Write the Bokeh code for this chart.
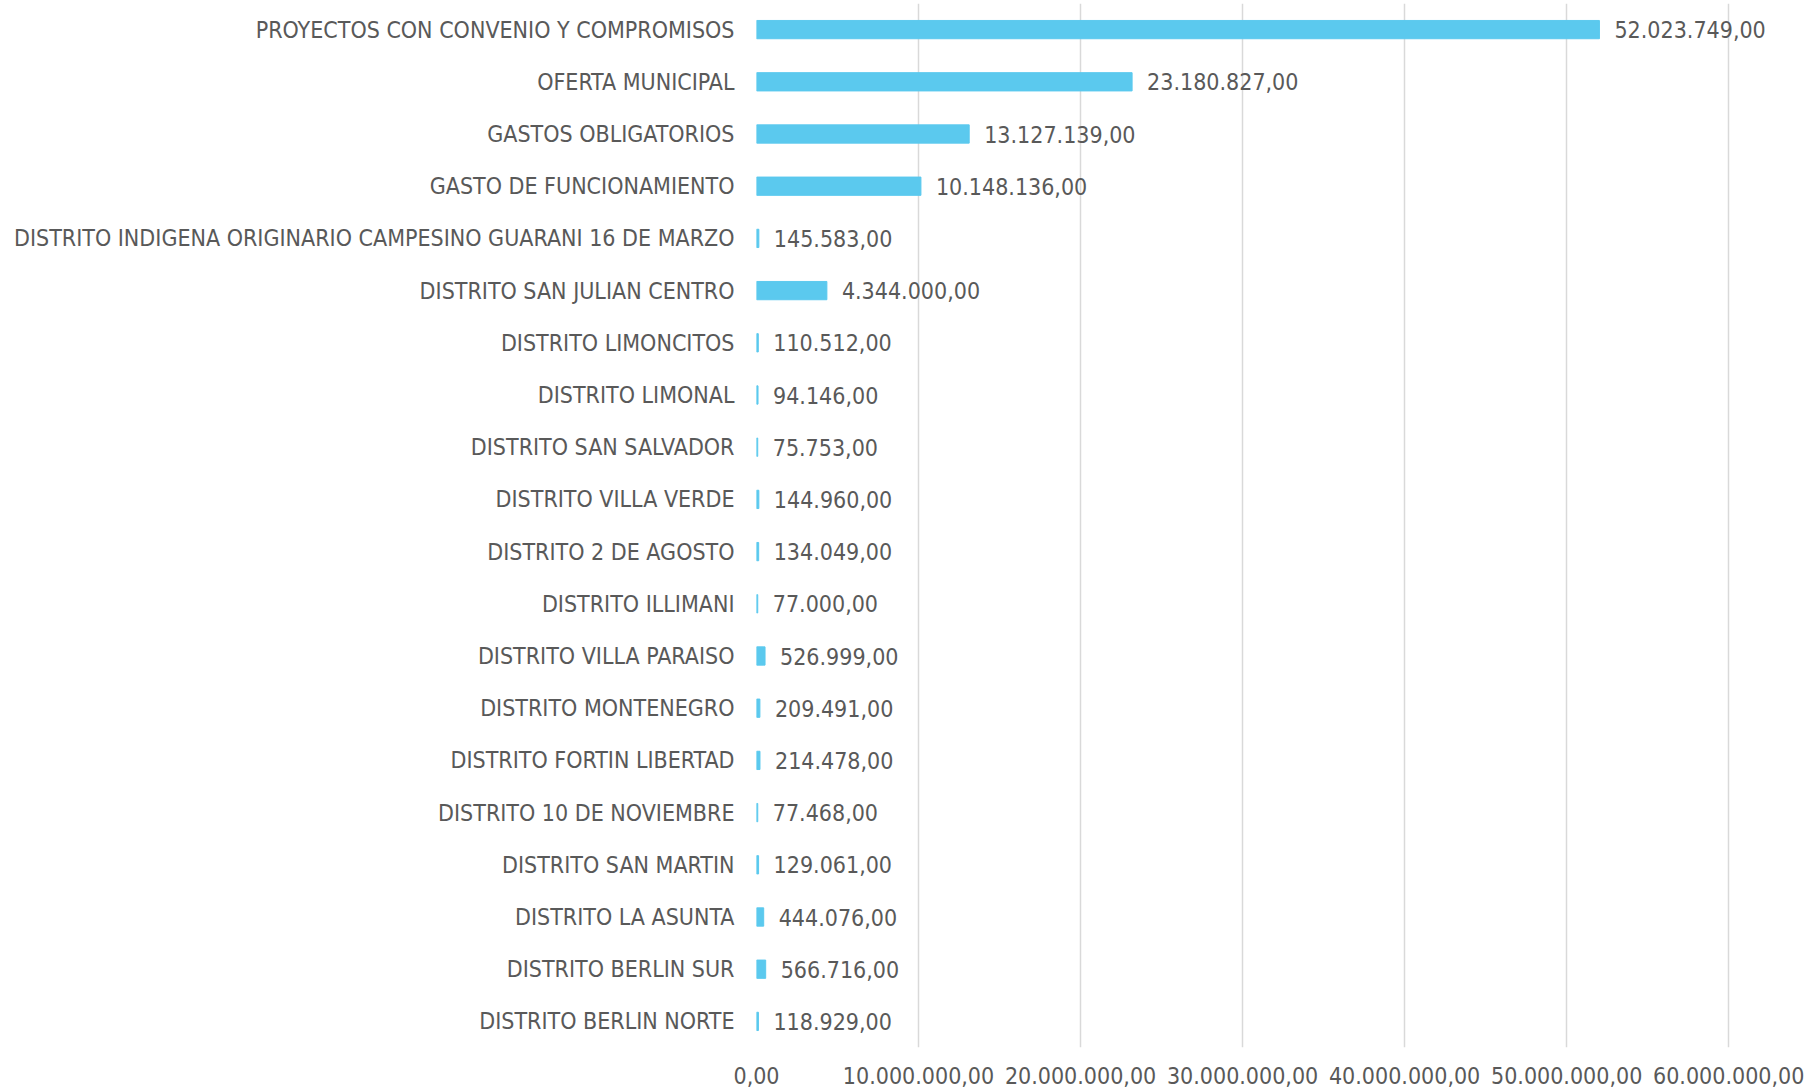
from bokeh.plotting import figure
from bokeh.models import ColumnDataSource, FixedTicker, Range1d, FactorRange
from bokeh.core.properties import value
from bokeh.embed import file_html
from bokeh.resources import INLINE

categories = [
    "PROYECTOS CON CONVENIO Y COMPROMISOS",
    "OFERTA MUNICIPAL",
    "GASTOS OBLIGATORIOS",
    "GASTO DE FUNCIONAMIENTO",
    "DISTRITO INDIGENA ORIGINARIO CAMPESINO GUARANI 16 DE MARZO",
    "DISTRITO SAN JULIAN CENTRO",
    "DISTRITO LIMONCITOS",
    "DISTRITO LIMONAL",
    "DISTRITO SAN SALVADOR",
    "DISTRITO VILLA VERDE",
    "DISTRITO 2 DE AGOSTO",
    "DISTRITO ILLIMANI",
    "DISTRITO VILLA PARAISO",
    "DISTRITO MONTENEGRO",
    "DISTRITO FORTIN LIBERTAD",
    "DISTRITO 10 DE NOVIEMBRE",
    "DISTRITO SAN MARTIN",
    "DISTRITO LA ASUNTA",
    "DISTRITO BERLIN SUR",
    "DISTRITO BERLIN NORTE",
]
values = [
    52023749.00, 23180827.00, 13127139.00, 10148136.00, 145583.00,
    4344000.00, 110512.00, 94146.00, 75753.00, 144960.00,
    134049.00, 77000.00, 526999.00, 209491.00, 214478.00,
    77468.00, 129061.00, 444076.00, 566716.00, 118929.00,
]
x_ticks = [0, 10000000, 20000000, 30000000, 40000000, 50000000, 60000000]
x_tick_labels = ["0,00", "10.000.000,00", "20.000.000,00", "30.000.000,00",
                 "40.000.000,00", "50.000.000,00", "60.000.000,00"]


def fmt_es(v):
    s = f"{v:,.2f}"
    return s.replace(",", "X").replace(".", ",").replace("X", ".")


FONT = "DejaVu Sans Condensed"
TXT = "#595959"
GRID = "#D9D9D9"
BAR = "#5BC9EE"

src = ColumnDataSource(dict(cat=categories, val=values,
                            lab=[fmt_es(v) for v in values]))

p = figure(width=1805, height=1089, output_backend="svg", toolbar_location=None,
           y_range=FactorRange(*list(reversed(categories)), range_padding=0),
           x_range=Range1d(0, 64000000))
p.min_border_left = 756
p.min_border_right = 12
p.min_border_top = 3
p.min_border_bottom = 42
p.outline_line_color = None

p.hbar(y="cat", right="val", left=0, height=0.35, color=BAR, source=src)
p.text(x="val", y="cat", text="lab", source=src, x_offset=15,
       text_align="left", text_baseline="middle", text_font=value(FONT),
       text_font_size="23px", text_color=TXT)

p.xaxis.ticker = FixedTicker(ticks=x_ticks)
p.xaxis.major_label_overrides = {t: l for t, l in zip(x_ticks, x_tick_labels)}
p.xaxis.axis_line_color = None
p.xaxis.major_tick_line_color = None
p.xaxis.minor_tick_line_color = None
p.xaxis.major_label_text_font = FONT
p.xaxis.major_label_text_font_size = "23px"
p.xaxis.major_label_text_color = TXT
p.xaxis.major_label_standoff = 13

p.yaxis.axis_line_color = None
p.yaxis.major_tick_line_color = None
p.yaxis.minor_tick_line_color = None
p.yaxis.major_label_text_font = FONT
p.yaxis.major_label_text_font_size = "23px"
p.yaxis.major_label_text_color = TXT
p.yaxis.major_label_standoff = 16

p.xgrid.grid_line_color = GRID
p.xgrid.grid_line_width = 1.5
p.ygrid.grid_line_color = None

open("out.html", "w").write(file_html(p, INLINE))
